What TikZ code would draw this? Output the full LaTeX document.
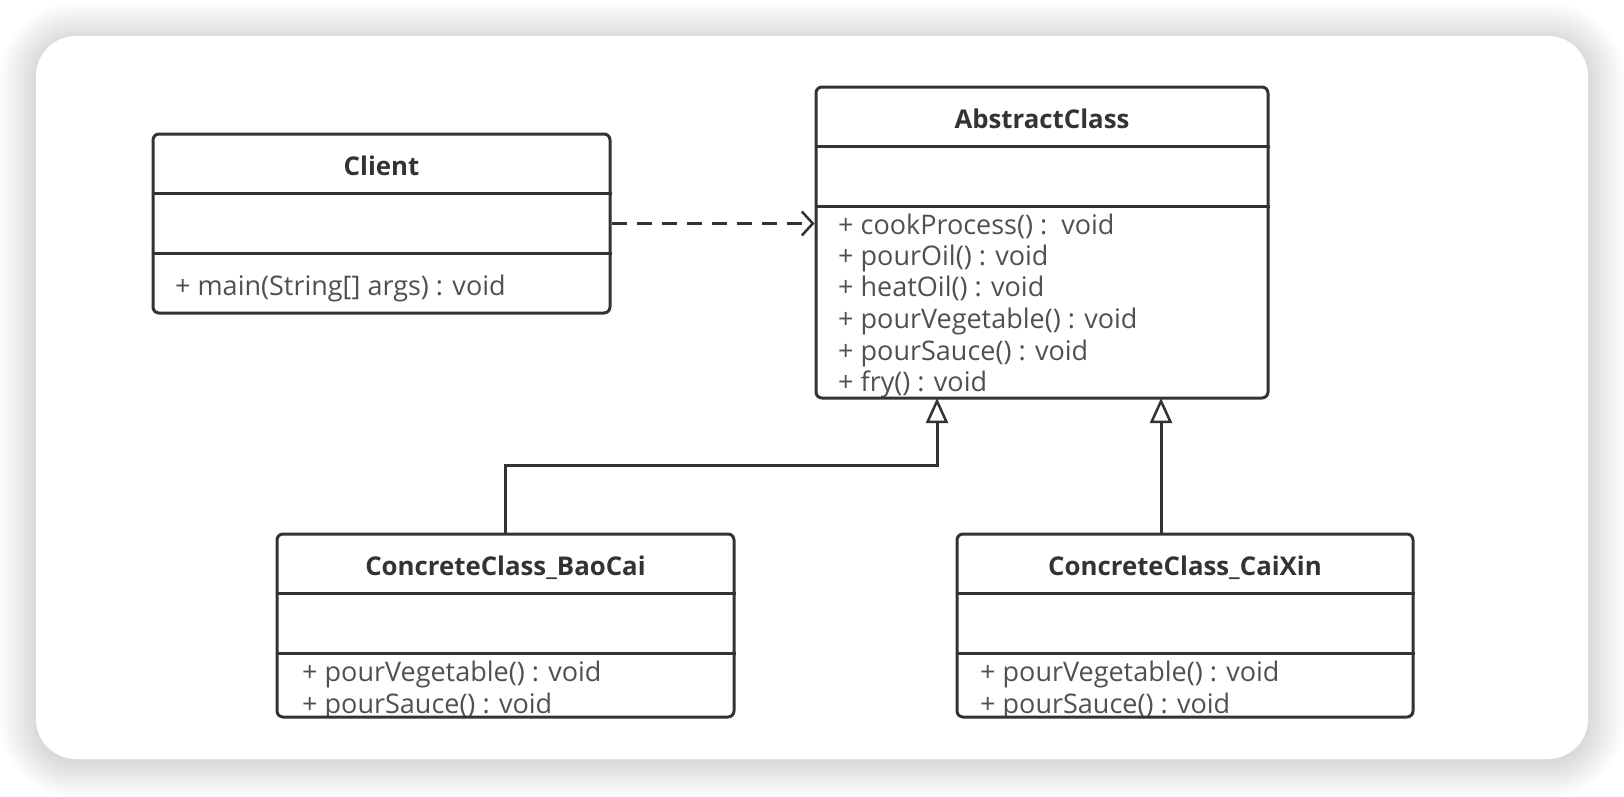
\documentclass[tikz,border=0pt]{standalone}
\usepackage{fontspec}
\setmainfont{Open Sans}
\usetikzlibrary{arrows.meta,calc}
\definecolor{lineC}{HTML}{333333}
\definecolor{titleC}{HTML}{333333}
\definecolor{textC}{HTML}{505050}
\begin{document}
\begin{tikzpicture}[x=1pt,y=-1pt,
  classbox/.style={draw=lineC,line width=3pt,rounded corners=6pt,fill=none,inner sep=0pt},
  divider/.style={draw=lineC,line width=3pt},
  ctitle/.style={anchor=base,inner sep=0pt,text=titleC,font=\fontsize{25.8}{30}\selectfont\bfseries},
  cmeth/.style={anchor=base west,inner sep=0pt,text=textC,font=\fontsize{27}{32}\selectfont},
  inh/.style={draw=lineC,line width=3pt,-{Triangle[width=22pt,length=25pt,fill=white,line width=2.5pt]}},
  dep/.style={draw=lineC,line width=3pt,dash pattern=on 15pt off 10pt,-{Straight Barb[length=11pt,width=24pt,line width=2.5pt]}}
]
\useasboundingbox (0,0) rectangle (1624,796);
\fill[white] (0,0) rectangle (1624,796);
% shadow of card
\foreach \i in {1,...,18}{
  \fill[black,opacity=0.0065,rounded corners={40pt+2*\i pt}]
    (36-2*\i,36-2*\i+3) rectangle (1588+2*\i,759+2*\i+3);
}
\fill[white,rounded corners=40pt] (36,36) rectangle (1588,759);

% Client
\node[classbox,minimum width=457pt,minimum height=179pt] (client) at (381.5,223.5) {};
\draw[divider] (client.west |- 0,193) -- (client.east |- 0,193);
\draw[divider] (client.west |- 0,253) -- (client.east |- 0,253);
\node[ctitle] (clientT) at (381.5,175) {Client};
\node[cmeth] (clientM) at (175,295) {+ main(String[] args) : void};

% AbstractClass
\node[classbox,minimum width=452pt,minimum height=311pt] (abs) at (1042,242.5) {};
\draw[divider] (abs.west |- 0,146) -- (abs.east |- 0,146);
\draw[divider] (abs.west |- 0,206) -- (abs.east |- 0,206);
\node[ctitle] (absT) at (1042,128) {AbstractClass};
\begin{scope}
\clip (820,208) rectangle (1264,396);
\node[cmeth] (absM1) at (838,234) {+ cookProcess() :\ \ void};
\node[cmeth] (absM2) at (838,265) {+ pourOil() : void};
\node[cmeth] (absM3) at (838,296) {+ heatOil() : void};
\node[cmeth] (absM4) at (838,328) {+ pourVegetable() : void};
\node[cmeth] (absM5) at (838,360) {+ pourSauce() : void};
\node[cmeth] (absM6) at (838,391) {+ fry() : void};
\end{scope}

% ConcreteClass_BaoCai
\begin{scope}
\clip (280,655) rectangle (730,715);
\node[cmeth] (baoM1) at (302,681) {+ pourVegetable() : void};
\node[cmeth] (baoM2) at (302,713) {+ pourSauce() : void};
\end{scope}
\node[classbox,minimum width=457pt,minimum height=183pt] (bao) at (505.5,625.5) {};
\draw[divider] (bao.west |- 0,593) -- (bao.east |- 0,593);
\draw[divider] (bao.west |- 0,653) -- (bao.east |- 0,653);
\node[ctitle] (baoT) at (505.5,575) {ConcreteClass\_BaoCai};

% ConcreteClass_CaiXin
\begin{scope}
\clip (960,655) rectangle (1410,715);
\node[cmeth] (caiM1) at (980,681) {+ pourVegetable() : void};
\node[cmeth] (caiM2) at (980,713) {+ pourSauce() : void};
\end{scope}
\node[classbox,minimum width=456pt,minimum height=183pt] (cai) at (1185,625.5) {};
\draw[divider] (cai.west |- 0,593) -- (cai.east |- 0,593);
\draw[divider] (cai.west |- 0,653) -- (cai.east |- 0,653);
\node[ctitle] (caiT) at (1185,575) {ConcreteClass\_CaiXin};

% connectors
\coordinate (absIn1) at (937,398);
\coordinate (absIn2) at (1161,398);
\coordinate (caiOut) at (1161,534);
\draw[dep] (client.east) -- (client.east -| abs.west);
\draw[inh] (bao.north) -- ++(0,-67) -| (absIn1);
\draw[inh] (caiOut) -- (absIn2);
\end{tikzpicture}
\end{document}
